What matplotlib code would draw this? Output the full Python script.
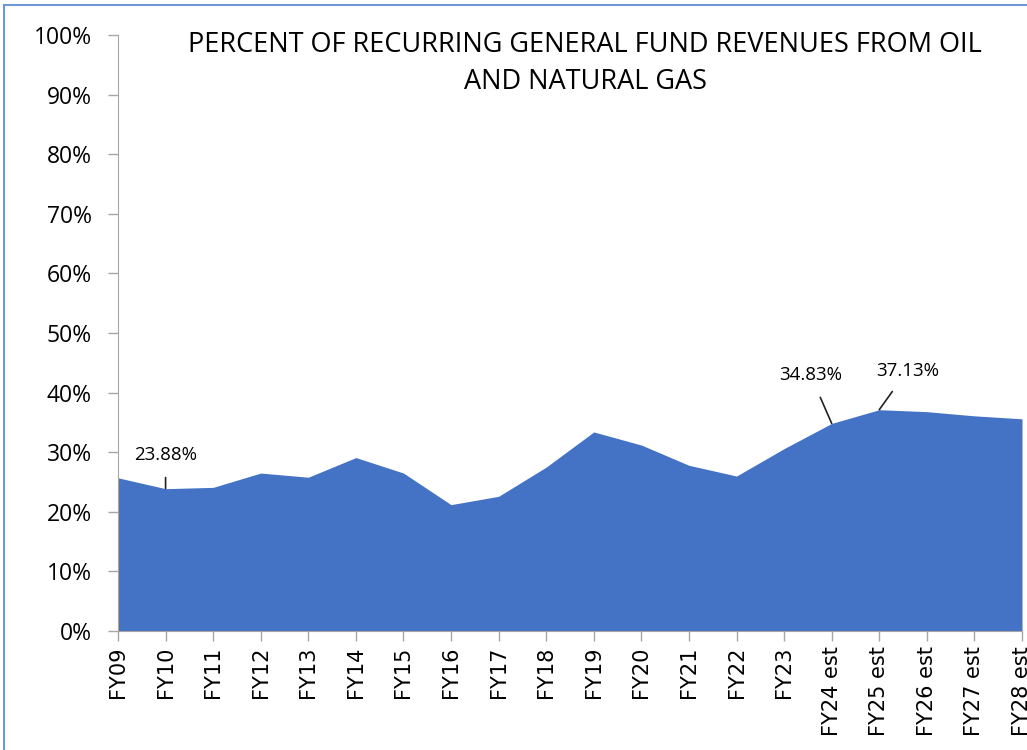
import matplotlib.pyplot as plt
import matplotlib.patches as patches
import numpy as np

# data
years = ["FY09", "FY10", "FY11", "FY12", "FY13", "FY14", "FY15", "FY16", "FY17",
         "FY18", "FY19", "FY20", "FY21", "FY22", "FY23", "FY24 est", "FY25 est",
         "FY26 est", "FY27 est", "FY28 est"]
pct = [25.7, 23.88, 24.1, 26.5, 25.8, 29.1, 26.5, 21.2, 22.6,
       27.5, 33.4, 31.2, 27.8, 26.0, 30.6, 34.83, 37.13,
       36.8, 36.1, 35.6]
labelled = {1: (0, 34), 15: (-21, 48), 16: (28, 39)}  # index -> text offset (px)

blue = "#4472C4"
x = np.arange(len(years))

fig = plt.figure(figsize=(10.27, 7.5), dpi=100)
ax = fig.add_axes([118/1027, 1-631/750, (1022-118)/1027, (631-35)/750])

ax.fill_between(x, pct, 0, color=blue, linewidth=0)
ax.set_xlim(0, len(years)-1)
ax.set_ylim(0, 100)

ax.set_yticks(np.arange(0, 101, 10))
ax.set_yticklabels([f"{v}%" for v in range(0, 101, 10)], fontsize=16.5, family="Open Sans")
ax.set_xticks(x)
ax.set_xticklabels(years, rotation=90, fontsize=15, family="DejaVu Sans")

for s in ["top", "right"]:
    ax.spines[s].set_visible(False)
for s in ["left", "bottom"]:
    ax.spines[s].set_color("#a6a6a6")
ax.tick_params(axis="both", color="#a6a6a6", length=7, width=1, direction="out")
ax.tick_params(axis="y", pad=12)
ax.tick_params(axis="x", pad=4)

for i, (dx, dy) in labelled.items():
    ax.annotate(f"{pct[i]:.2f}%", xy=(i, pct[i]), xytext=(dx*0.72, dy*0.72),
                textcoords="offset points", ha="center", va="center",
                fontsize=13.5, family="Open Sans",
                arrowprops=dict(arrowstyle="-", color="#222222", lw=1.2,
                                shrinkA=8, shrinkB=0))

fig.text(585/1027, 1-45/750, "PERCENT OF RECURRING GENERAL FUND REVENUES FROM OIL",
         ha="center", va="center", fontsize=19.5, family="Open Sans")
fig.text(585/1027, 1-82/750, "AND NATURAL GAS",
         ha="center", va="center", fontsize=19.5, family="Open Sans")

# outer border of the chart box
fig.patches.append(patches.Rectangle((4/1027, -0.01), 1.02, 1-5/750+0.01,
                                     transform=fig.transFigure, fill=False,
                                     edgecolor="#6f97d8", lw=1.5))

fig.savefig("out.png", dpi=100)
